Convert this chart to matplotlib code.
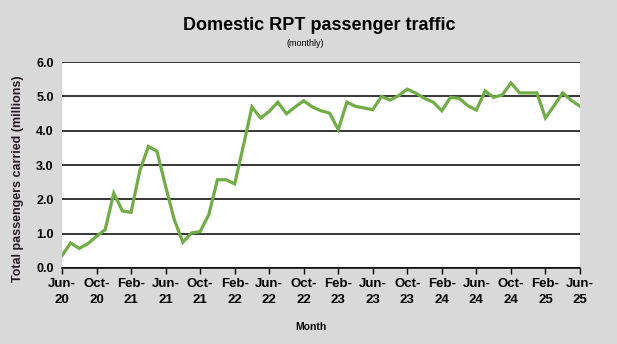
import numpy as np
import matplotlib
matplotlib.use("Agg")
import matplotlib.pyplot as plt
from matplotlib import font_manager

# monthly domestic RPT passengers (millions), Jun-20 .. Jun-25
months = ["Jun-20", "Jul-20", "Aug-20", "Sep-20", "Oct-20", "Nov-20", "Dec-20",
          "Jan-21", "Feb-21", "Mar-21", "Apr-21", "May-21", "Jun-21", "Jul-21",
          "Aug-21", "Sep-21", "Oct-21", "Nov-21", "Dec-21", "Jan-22", "Feb-22",
          "Mar-22", "Apr-22", "May-22", "Jun-22", "Jul-22", "Aug-22", "Sep-22",
          "Oct-22", "Nov-22", "Dec-22", "Jan-23", "Feb-23", "Mar-23", "Apr-23",
          "May-23", "Jun-23", "Jul-23", "Aug-23", "Sep-23", "Oct-23", "Nov-23",
          "Dec-23", "Jan-24", "Feb-24", "Mar-24", "Apr-24", "May-24", "Jun-24",
          "Jul-24", "Aug-24", "Sep-24", "Oct-24", "Nov-24", "Dec-24", "Jan-25",
          "Feb-25", "Mar-25", "Apr-25", "May-25", "Jun-25"]
passengers = [0.36, 0.73, 0.57, 0.71, 0.92, 1.12, 2.18,
              1.66, 1.62, 2.82, 3.54, 3.40, 2.38, 1.41,
              0.75, 1.02, 1.06, 1.55, 2.57, 2.57, 2.45,
              3.55, 4.69, 4.37, 4.56, 4.83, 4.49, 4.69,
              4.87, 4.69, 4.58, 4.51, 4.03, 4.83, 4.71,
              4.66, 4.61, 5.00, 4.89, 5.02, 5.21, 5.09,
              4.94, 4.83, 4.58, 4.97, 4.94, 4.73, 4.60,
              5.16, 4.97, 5.04, 5.39, 5.10, 5.10, 5.10,
              4.37, 4.73, 5.10, 4.88, 4.71]

tick_labels = ["Jun-\n20", "Oct-\n20", "Feb-\n21", "Jun-\n21", "Oct-\n21", "Feb-\n22",
               "Jun-\n22", "Oct-\n22", "Feb-\n23", "Jun-\n23", "Oct-\n23", "Feb-\n24",
               "Jun-\n24", "Oct-\n24", "Feb-\n25", "Jun-\n25"]

names = {f.name for f in font_manager.fontManager.ttflist}
narrow = "Liberation Sans Narrow" if "Liberation Sans Narrow" in names else "Liberation Sans"
plt.rcParams["font.family"] = ["Liberation Sans", "DejaVu Sans"]

bg = "#d9d9d9"
fig = plt.figure(figsize=(6.17, 3.44), dpi=100, facecolor=bg)
ax = fig.add_axes([62/617, 1-268/344, 518/617, 206/344])
ax.set_facecolor("white")

x = np.arange(len(passengers))
ax.plot(x, passengers, color="#70ad47", lw=2.3, solid_joinstyle="miter", zorder=3)

ax.set_xlim(0, len(passengers)-1)
ax.set_ylim(0, 6)
ax.set_yticks(np.arange(0, 6.1, 1.0))
ax.set_yticklabels([f"{v:.1f}" for v in np.arange(0, 6.1, 1.0)],
                   fontsize=9, fontweight="bold", family=narrow)
ax.set_xticks(np.arange(0, len(passengers), 4))
ax.set_xticklabels(tick_labels, fontsize=9.5, fontweight="bold", family=narrow,
                   linespacing=1.45)
ax.yaxis.grid(True, color="black", lw=1.1)
ax.set_axisbelow(True)
for s in ["left", "right", "top"]:
    ax.spines[s].set_visible(False)
ax.spines["bottom"].set_linewidth(1.1)
ax.tick_params(axis="y", length=0, pad=6)
ax.tick_params(axis="x", direction="out", length=4, width=1, pad=3)

fig.text(0.518, 0.927, "Domestic RPT passenger traffic", ha="center", va="center",
         fontsize=13, fontweight="bold")
fig.text(0.494, 0.875, "(monthly)", ha="center", va="center", fontsize=6.5)
fig.text(0.504, 0.05, "Month", ha="center", va="center", fontsize=7.5,
         fontweight="bold", family=narrow)
fig.text(0.029, 0.48, "Total passengers carried (millions)", ha="center", va="center",
         rotation=90, fontsize=9, fontweight="bold", color="#2b1a2b")

fig.savefig("out.png", dpi=100, facecolor=bg)
